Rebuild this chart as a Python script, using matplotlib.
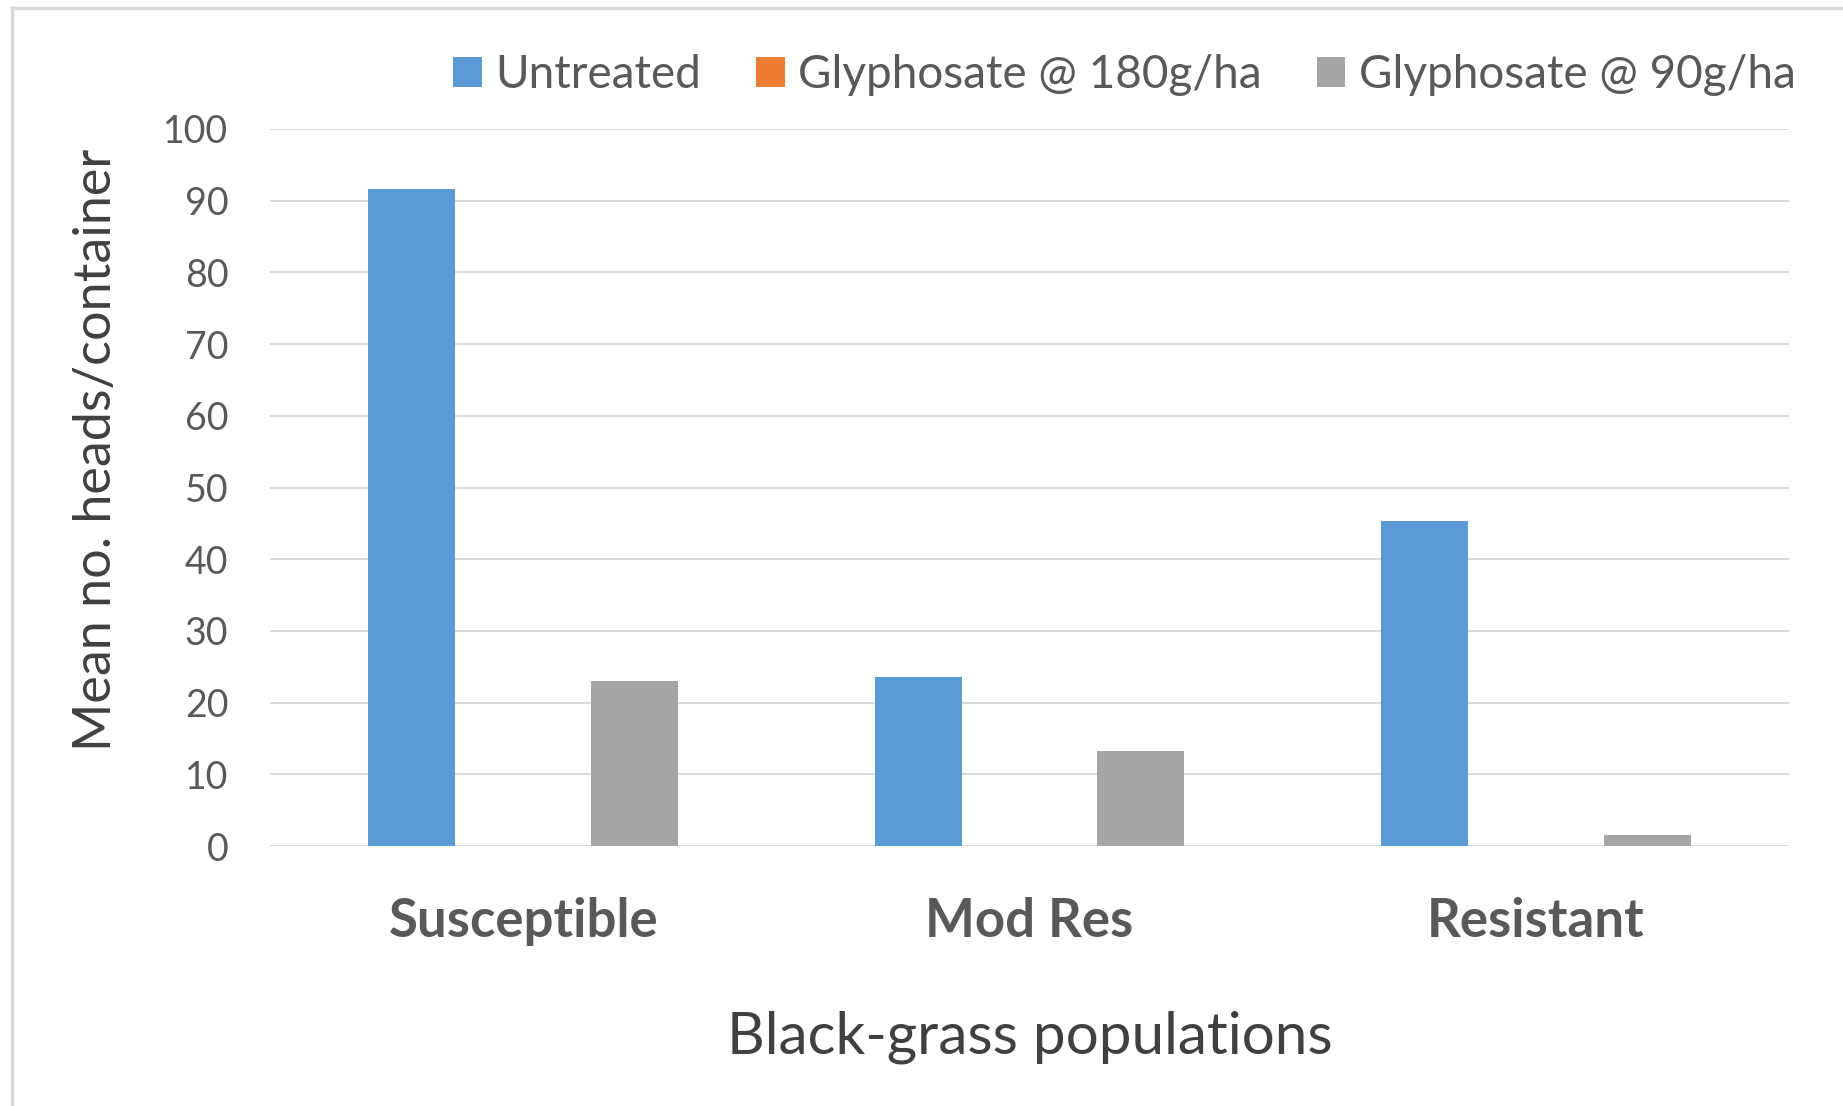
import matplotlib
matplotlib.use("Agg")
import matplotlib.pyplot as plt
from matplotlib.lines import Line2D
import numpy as np

# Chart data
populations = ["Susceptible", "Mod Res", "Resistant"]
series_names = ["Untreated", "Glyphosate @ 180g/ha", "Glyphosate @ 90g/ha"]
untreated = [91.6, 23.6, 45.4]
glyph_180 = [0, 0, 0]
glyph_90 = [23.0, 13.3, 1.5]
y_ticks = [0, 10, 20, 30, 40, 50, 60, 70, 80, 90, 100]

colors = ["#5B9BD5", "#ED7D31", "#A5A5A5"]
text_color = "#595959"
grid_color = "#D9D9D9"

plt.rcParams["font.family"] = ["Lato", "DejaVu Sans"]

fig = plt.figure(figsize=(18.43, 11.06), dpi=100)
ax = fig.add_axes([0.1465, 0.235, 0.8242, 0.6484])

x = np.arange(len(populations))
width = 0.172
offset = 0.22
for i, values in enumerate([untreated, glyph_180, glyph_90]):
    ax.bar(x + (i - 1) * offset, values, width, color=colors[i],
           label=series_names[i], zorder=3)

ax.set_xlim(-0.5, len(populations) - 0.5)
ax.set_ylim(0, 100)
ax.set_yticks(y_ticks)
ax.yaxis.grid(True, color=grid_color, linewidth=1.4, zorder=0)
ax.set_axisbelow(True)
for s in ax.spines.values():
    s.set_visible(False)
ax.tick_params(axis="both", length=0)
ax.tick_params(axis="y", labelsize=27, labelcolor=text_color, pad=30)
ax.set_xticks(x)
ax.set_xticklabels(populations, fontsize=38, fontweight="bold", color=text_color)
ax.tick_params(axis="x", pad=37)

ax.set_ylabel("Mean no. heads/container", fontsize=37.5, color="#404040")
ax.yaxis.set_label_coords(-0.099, 0.552)
ax.set_xlabel("Black-grass populations", fontsize=42, color="#404040")
ax.xaxis.set_label_coords(0.5, -0.229)

leg = fig.legend(loc="center left", bbox_to_anchor=(0.2235, 0.932), ncol=3,
                 frameon=False, fontsize=33, handlelength=0.62, handleheight=0.62,
                 handletextpad=0.3, columnspacing=1.2, labelcolor=text_color)

# light frame on top and left edges
fig.add_artist(Line2D([12 / 1843, 1.0], [1 - 8 / 1106, 1 - 8 / 1106],
                      transform=fig.transFigure, color=grid_color, linewidth=2.5))
fig.add_artist(Line2D([12 / 1843, 12 / 1843], [0.0, 1 - 8 / 1106],
                      transform=fig.transFigure, color=grid_color, linewidth=2.5))

fig.savefig("out.png", dpi=100, facecolor="white")
